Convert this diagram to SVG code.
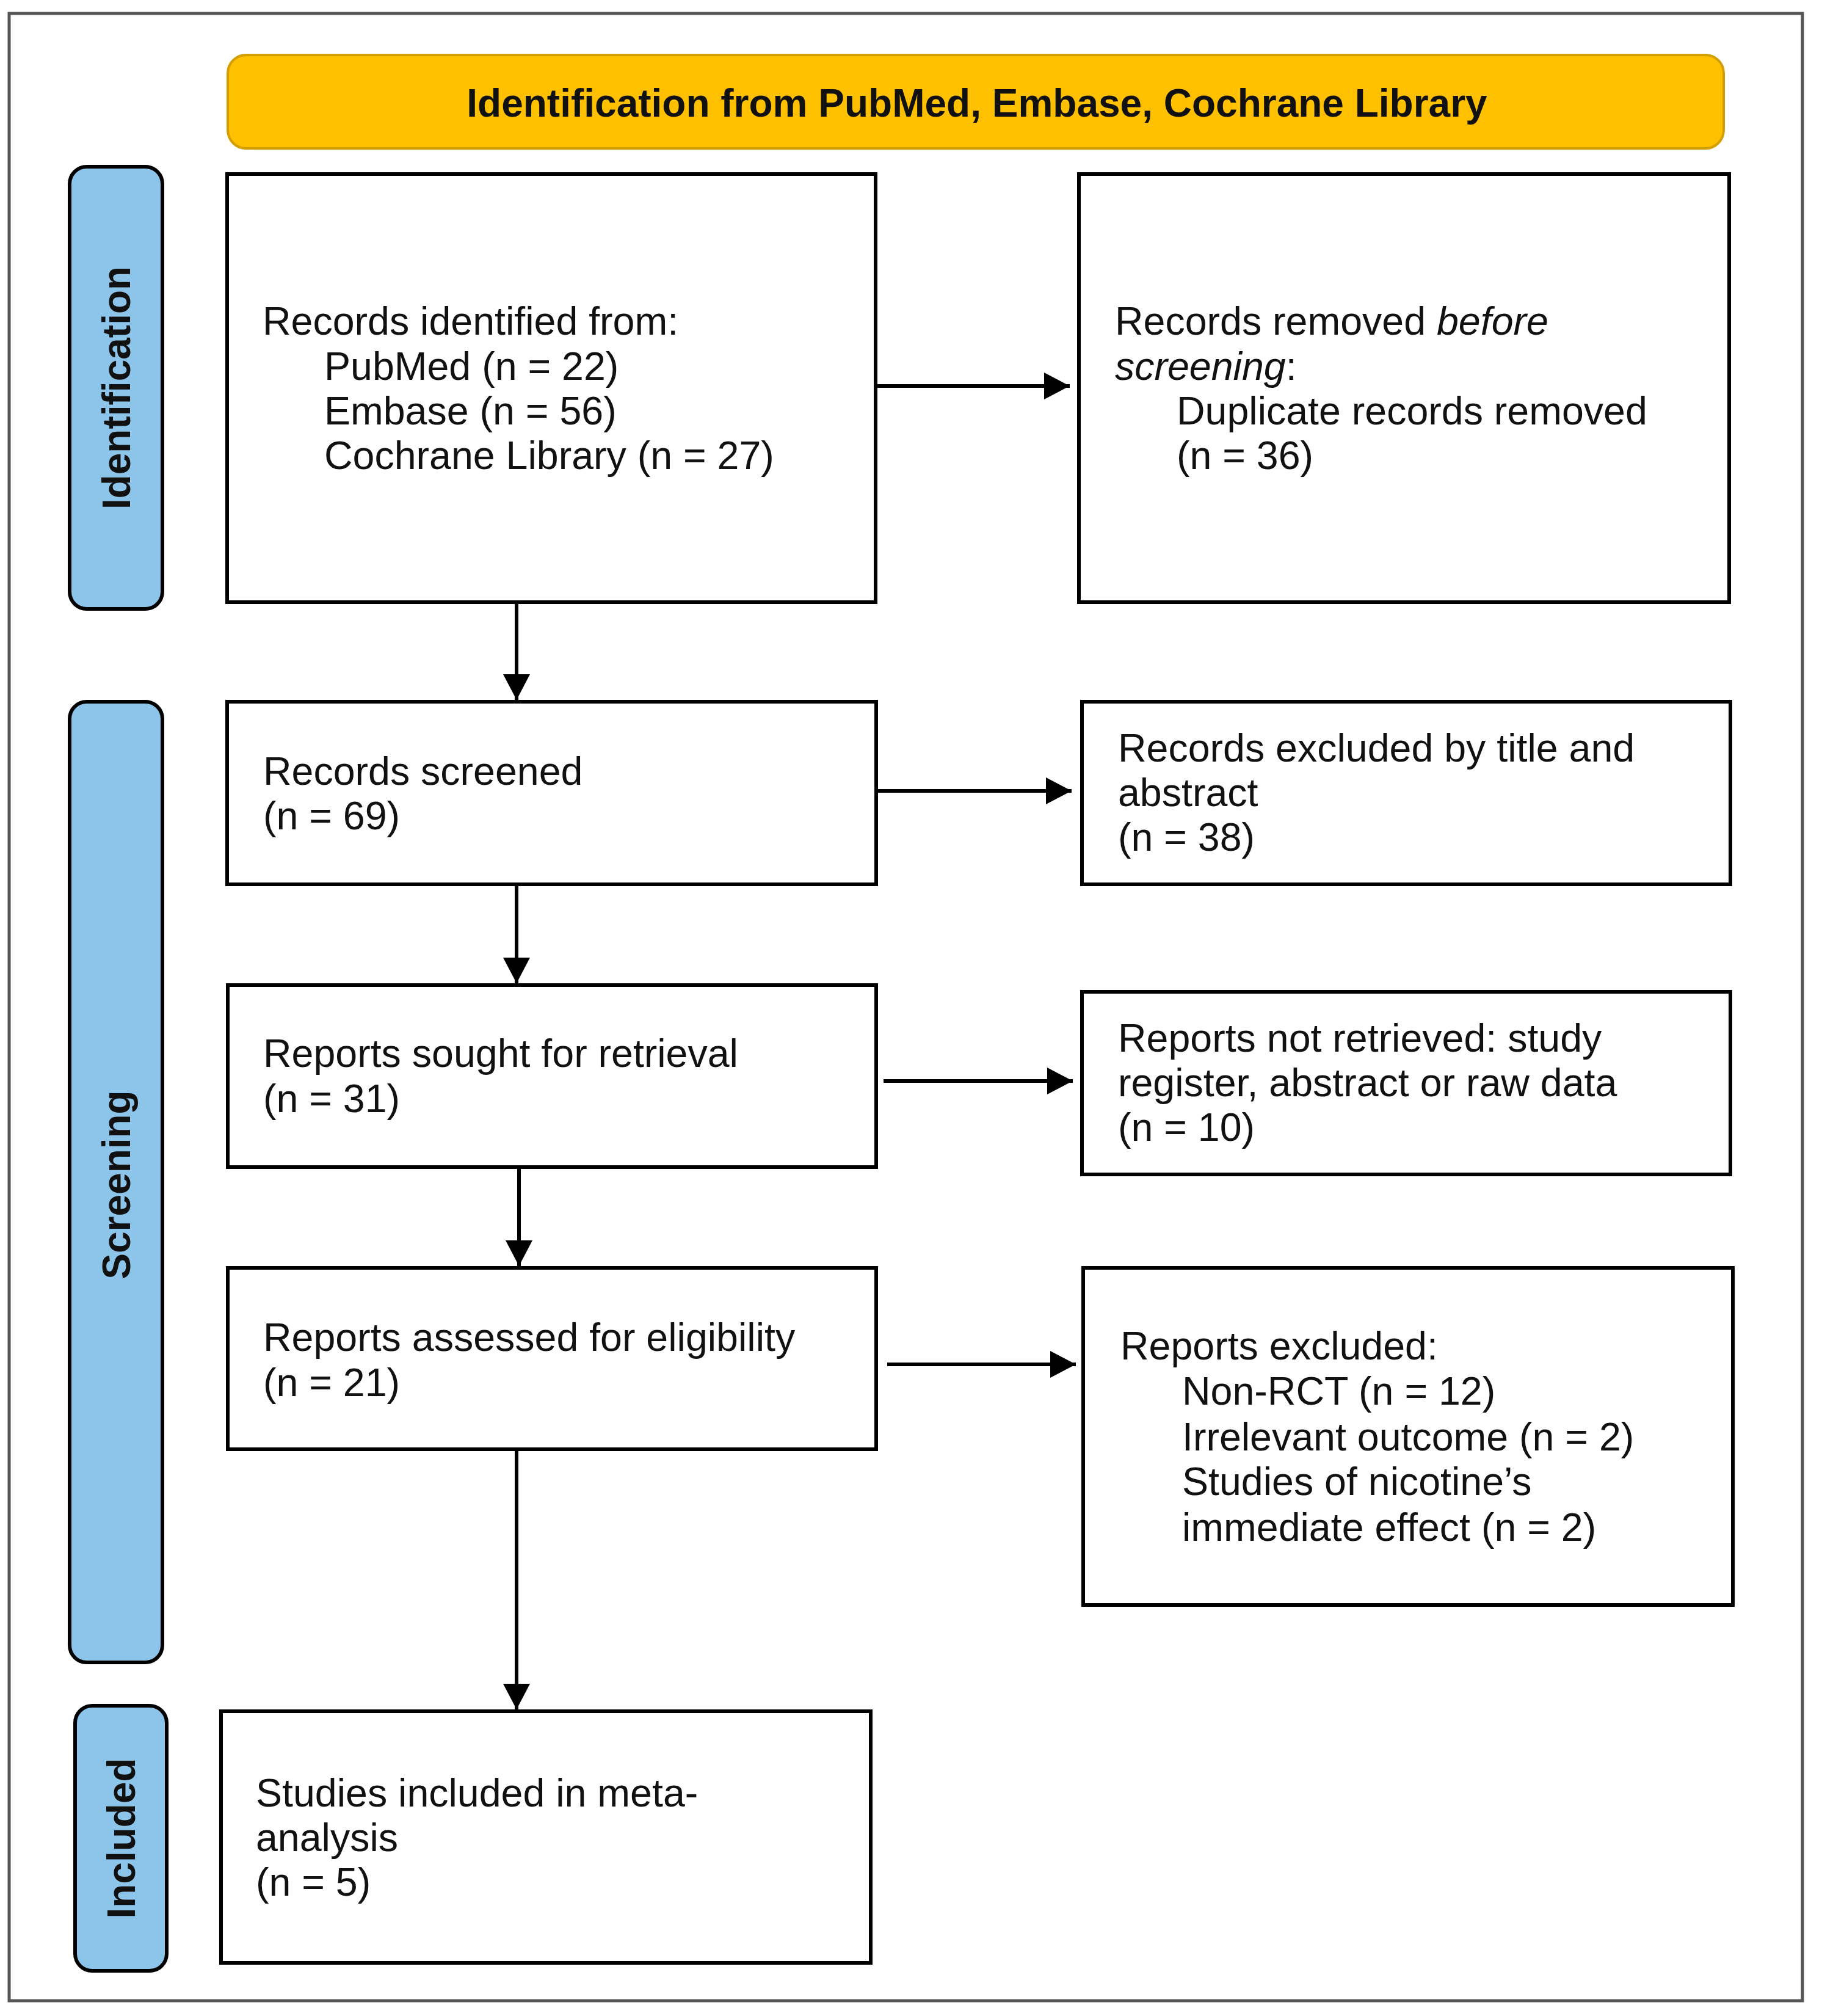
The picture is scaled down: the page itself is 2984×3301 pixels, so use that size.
<svg xmlns="http://www.w3.org/2000/svg" width="2984" height="3301" viewBox="0 0 2984 3301">
<style>
.box{fill:#fff;stroke:#000;stroke-width:6}
.side{fill:#8DC4EA;stroke:#000;stroke-width:6}
.t{font-family:"Liberation Sans",Arial,sans-serif;font-size:64.5px;fill:#111}
.b{font-family:"Liberation Sans",Arial,sans-serif;font-size:64px;font-weight:bold;fill:#111}
.c{stroke:#000;stroke-width:6;fill:none}
</style>
<defs>
<marker id="ah" markerUnits="userSpaceOnUse" markerWidth="44" markerHeight="44" refX="42" refY="22" orient="auto">
<path d="M0,0 L42,22 L0,44 Z" fill="#000"/>
</marker>
</defs>
<rect x="0" y="0" width="2984" height="3301" fill="#fff"/>
<rect id="frame" x="15" y="22" width="2937" height="3254" fill="none" stroke="#555" stroke-width="5"/>

<g id="header">
<rect x="373" y="90" width="2450" height="153" rx="30" fill="#FFC000" stroke="#D39E00" stroke-width="4"/>
<text class="b" x="1600" y="191" text-anchor="middle">Identification from PubMed, Embase, Cochrane Library</text>
</g>

<g id="side-identification">
<rect class="side" x="114" y="273" width="152" height="724" rx="28"/>
<text class="b" transform="translate(213,635) rotate(-90)" text-anchor="middle">Identification</text>
</g>
<g id="side-screening">
<rect class="side" x="114" y="1149" width="152" height="1573" rx="28"/>
<text class="b" transform="translate(213,1940) rotate(-90)" text-anchor="middle">Screening</text>
</g>
<g id="side-included">
<rect class="side" x="123" y="2793" width="150" height="434" rx="28"/>
<text class="b" transform="translate(221,3010) rotate(-90)" text-anchor="middle">Included</text>
</g>

<g id="records-identified">
<rect class="box" x="372" y="285" width="1062" height="701"/>
<text class="t"><tspan x="430" y="548">Records identified from:</tspan><tspan x="531" y="622">PubMed (n = 22)</tspan><tspan x="531" y="695">Embase (n = 56)</tspan><tspan x="531" y="768">Cochrane Library (n = 27)</tspan></text>
</g>
<g id="records-removed">
<rect class="box" x="1767" y="285" width="1065" height="701"/>
<text class="t"><tspan x="1826" y="548">Records removed <tspan font-style="italic">before</tspan></tspan><tspan x="1826" y="622"><tspan font-style="italic">screening</tspan>:</tspan><tspan x="1927" y="695">Duplicate records removed</tspan><tspan x="1927" y="768">(n = 36)</tspan></text>
</g>
<g id="records-screened">
<rect class="box" x="372" y="1149" width="1063" height="299"/>
<text class="t"><tspan x="431" y="1285">Records screened</tspan><tspan x="431" y="1358">(n = 69)</tspan></text>
</g>
<g id="records-excluded">
<rect class="box" x="1772" y="1149" width="1062" height="299"/>
<text class="t"><tspan x="1831" y="1247">Records excluded by title and</tspan><tspan x="1831" y="1320">abstract</tspan><tspan x="1831" y="1393">(n = 38)</tspan></text>
</g>
<g id="reports-sought">
<rect class="box" x="373" y="1613" width="1062" height="298"/>
<text class="t"><tspan x="431" y="1747">Reports sought for retrieval</tspan><tspan x="431" y="1821">(n = 31)</tspan></text>
</g>
<g id="reports-not-retrieved">
<rect class="box" x="1772" y="1624" width="1062" height="299"/>
<text class="t"><tspan x="1831" y="1722">Reports not retrieved: study</tspan><tspan x="1831" y="1795">register, abstract or raw data</tspan><tspan x="1831" y="1868">(n = 10)</tspan></text>
</g>
<g id="reports-assessed">
<rect class="box" x="373" y="2076" width="1062" height="297"/>
<text class="t"><tspan x="431" y="2212">Reports assessed for eligibility</tspan><tspan x="431" y="2286">(n = 21)</tspan></text>
</g>
<g id="reports-excluded">
<rect class="box" x="1774" y="2076" width="1064" height="552"/>
<text class="t"><tspan x="1835" y="2226">Reports excluded:</tspan><tspan x="1936" y="2300">Non-RCT (n = 12)</tspan><tspan x="1936" y="2375">Irrelevant outcome (n = 2)</tspan><tspan x="1936" y="2448">Studies of nicotine’s</tspan><tspan x="1936" y="2523">immediate effect (n = 2)</tspan></text>
</g>
<g id="studies-included">
<rect class="box" x="362" y="2802" width="1064" height="412"/>
<text class="t"><tspan x="419" y="2958">Studies included in meta-</tspan><tspan x="419" y="3031">analysis</tspan><tspan x="419" y="3104">(n = 5)</tspan></text>
</g>

<g id="connectors">
<line class="c" x1="1437" y1="632" x2="1752" y2="632" marker-end="url(#ah)"/>
<line class="c" x1="846" y1="989" x2="846" y2="1146" marker-end="url(#ah)"/>
<line class="c" x1="1438" y1="1295" x2="1755" y2="1295" marker-end="url(#ah)"/>
<line class="c" x1="846" y1="1451" x2="846" y2="1610" marker-end="url(#ah)"/>
<line class="c" x1="1447" y1="1770" x2="1757" y2="1770" marker-end="url(#ah)"/>
<line class="c" x1="850" y1="1914" x2="850" y2="2073" marker-end="url(#ah)"/>
<line class="c" x1="1453" y1="2234" x2="1762" y2="2234" marker-end="url(#ah)"/>
<line class="c" x1="846" y1="2376" x2="846" y2="2799" marker-end="url(#ah)"/>
</g>
</svg>
